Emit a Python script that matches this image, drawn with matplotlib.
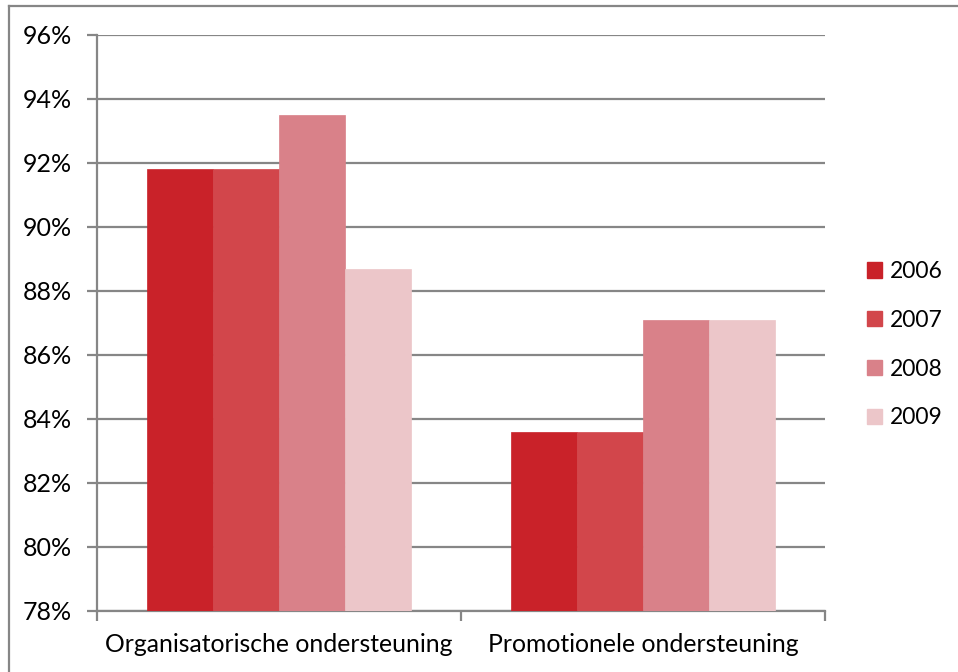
import matplotlib
matplotlib.use("Agg")
import matplotlib.pyplot as plt
import numpy as np
from matplotlib.lines import Line2D
from matplotlib.patches import Patch

categories = ["Organisatorische ondersteuning", "Promotionele ondersteuning"]
years = ["2006", "2007", "2008", "2009"]
values_2006 = [91.8, 83.6]
values_2007 = [91.8, 83.6]
values_2008 = [93.5, 87.1]
values_2009 = [88.7, 87.1]
series = [values_2006, values_2007, values_2008, values_2009]
colors = ["#C92229", "#D2464B", "#D98189", "#ECC6C9"]
yticks = [78, 80, 82, 84, 86, 88, 90, 92, 94, 96]

plt.rcParams['font.family'] = ['Lato', 'DejaVu Sans']
FS_X = 17.8
FS_Y = 18.0
FS_L = 16.5

W, H = 958, 672
fig = plt.figure(figsize=(W/100, H/100), dpi=100)
ax = fig.add_axes([97/W, 1-611/H, (825-97)/W, (611-35)/H])

x = np.arange(len(categories))
bw = 0.1815
base = 78
for i, (vals, c) in enumerate(zip(series, colors)):
    pos = x + (i - 1.5) * bw
    heights = [v - base for v in vals]
    ax.bar(pos, heights, bw, bottom=base, color=c, edgecolor=c, linewidth=0.5, zorder=3, label=years[i])

ax.set_xlim(-0.5, 1.5)
ax.set_ylim(78, 96)
ax.set_yticks(yticks)
ax.set_yticklabels([f"{t}%" for t in yticks], fontsize=FS_Y)
ax.yaxis.grid(True, color="#868686", linewidth=1.6, zorder=0)
ax.set_axisbelow(True)

ax.set_xticks([-0.5, 0.5, 1.5])
ax.set_xticklabels([])
ax.set_xticks(x, minor=True)
ax.set_xticklabels(categories, minor=True, fontsize=FS_X)
ax.tick_params(axis='x', which='minor', length=0, pad=16)
ax.tick_params(axis='x', which='major', length=7, width=1.6, color="#868686", direction='out')
ax.tick_params(axis='y', length=7, width=1.6, color="#868686", pad=11)

for s in ["top", "right"]:
    ax.spines[s].set_visible(False)
for s in ["left", "bottom"]:
    ax.spines[s].set_color("#868686")
    ax.spines[s].set_linewidth(1.6)

handles = [Patch(facecolor=c, edgecolor=c) for c in colors]
leg = fig.legend(handles, years, loc='upper left', bbox_to_anchor=(858/W, 1-252/H),
                 frameon=False, fontsize=FS_L, handlelength=0.65, handleheight=0.65,
                 labelspacing=1.21, handletextpad=0.35, borderaxespad=0)

# figure border (top and left visible)
fig.add_artist(Line2D([9/W, 9/W], [0, 1-6/H], color="#868686", linewidth=1.6, transform=fig.transFigure))
fig.add_artist(Line2D([9/W, 1], [1-6/H, 1-6/H], color="#868686", linewidth=1.6, transform=fig.transFigure))

fig.savefig("out.png", dpi=100)
